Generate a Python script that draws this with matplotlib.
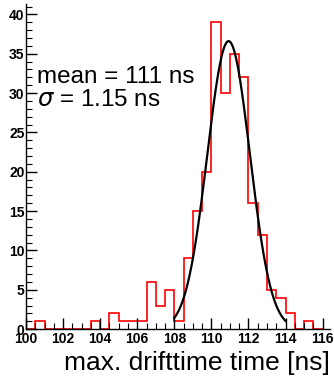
import numpy as np
import matplotlib
matplotlib.use("Agg")
import matplotlib.pyplot as plt
from matplotlib.ticker import MultipleLocator

plt.rcParams['font.family'] = ['Liberation Sans', 'DejaVu Sans']
plt.rcParams['mathtext.fontset'] = 'dejavusans'

# histogram of the maximal drift time, bins of 0.5 ns
bin_edges = np.arange(100.0, 116.01, 0.5)
counts = [0, 1, 0, 0, 0, 0, 0, 1, 0, 2, 1, 1, 1, 6, 3, 5,
          1, 9, 15, 20, 39, 30, 35, 32, 16, 12, 5, 4, 2, 0, 1, 0]

# gaussian fit
fit_amp = 36.6
fit_mean = 110.93
fit_sigma = 1.15
fit_range = (108.0, 114.0)

fig = plt.figure(figsize=(3.34, 3.77), dpi=100)
ax = fig.add_axes([0.078, 0.127, 0.91, 0.862])

ax.stairs(counts, bin_edges, color='red', linewidth=1.2)

xf = np.linspace(fit_range[0], fit_range[1], 200)
yf = fit_amp * np.exp(-0.5 * ((xf - fit_mean) / fit_sigma) ** 2)
ax.plot(xf, yf, color='black', linewidth=1.6)

ax.set_xlim(100, 116.4)
ax.set_ylim(0, 41.3)

for s in ['top', 'right']:
    ax.spines[s].set_visible(False)
for s in ['left', 'bottom']:
    ax.spines[s].set_linewidth(1.0)

ax.xaxis.set_major_locator(MultipleLocator(2))
ax.xaxis.set_minor_locator(MultipleLocator(0.5))
ax.yaxis.set_major_locator(MultipleLocator(5))
ax.yaxis.set_minor_locator(MultipleLocator(1))
ax.tick_params(which='major', direction='in', length=8, width=1.0,
               labelsize=10, pad=2)
ax.tick_params(which='minor', direction='in', length=4, width=0.8)
for lab in ax.get_xticklabels() + ax.get_yticklabels():
    lab.set_fontweight('bold')
ax.tick_params(axis='y', pad=1)

fig.text(0.112, 1 - 83 / 377, "mean = 111 ns", fontsize=17.5,
         va='baseline', ha='left')
fig.text(0.112, 1 - 106 / 377, r"$\sigma$ = 1.15 ns", fontsize=17.5,
         va='baseline', ha='left')

fig.text(0.988, 1 - 370 / 377, "max. drifttime time [ns]", fontsize=19,
         ha='right', va='baseline')

fig.savefig("out.png", dpi=100)
